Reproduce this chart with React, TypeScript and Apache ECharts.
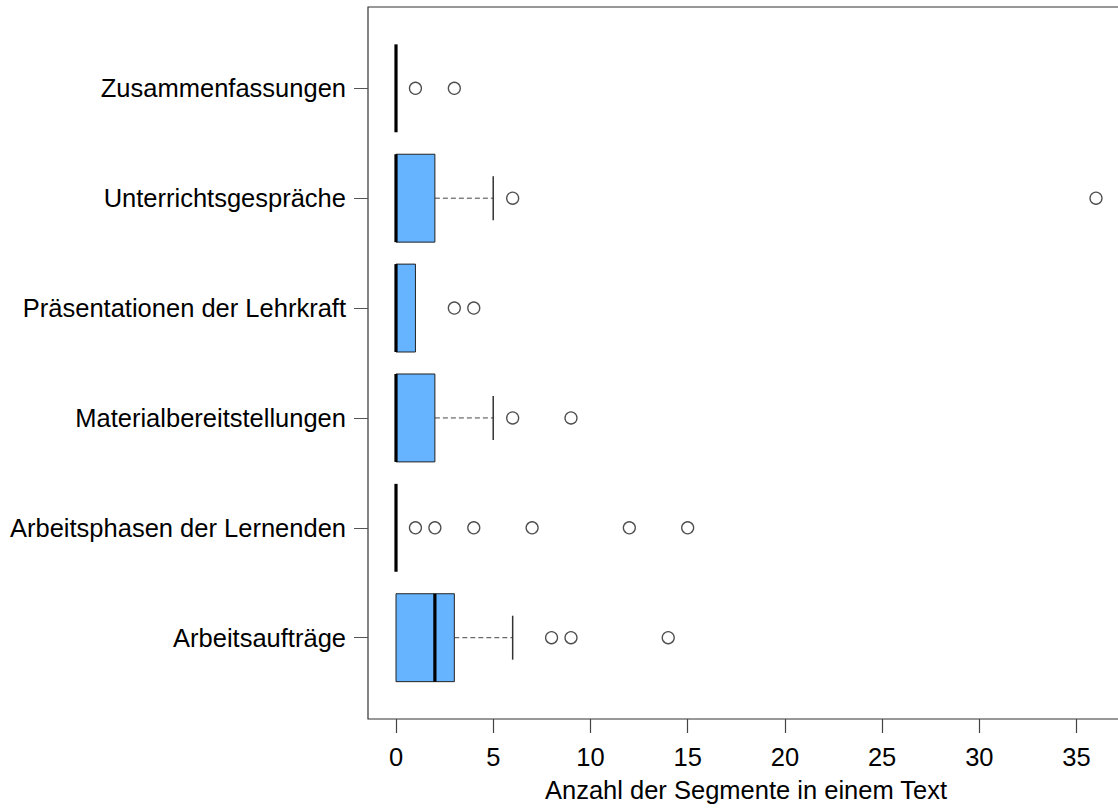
import React, { useEffect, useRef } from "react";
import * as echarts from "echarts";

// Categories, bottom to top (positions 1..6 on the y scale)
const categories = [
  "Arbeitsaufträge",
  "Arbeitsphasen der Lernenden",
  "Materialbereitstellungen",
  "Präsentationen der Lehrkraft",
  "Unterrichtsgespräche",
  "Zusammenfassungen",
];

// Five-number summaries: [lower whisker, Q1, median, Q3, upper whisker]
const lowerWhisker = [0, 0, 0, 0, 0, 0];
const q1 = [0, 0, 0, 0, 0, 0];
const median = [2, 0, 0, 0, 0, 0];
const q3 = [3, 0, 2, 1, 2, 0];
const upperWhisker = [6, 0, 5, 1, 5, 0];

// Outliers per category (same order as categories)
const outliers: number[][] = [
  [8, 9, 14],
  [1, 2, 4, 7, 12, 15],
  [6, 9],
  [3, 4],
  [6, 36],
  [1, 3],
];

const xTicks = [0, 5, 10, 15, 20, 25, 30, 35];
const yTicks = [1, 2, 3, 4, 5, 6];

const FONT = "'Liberation Sans', Arial, sans-serif";
const FONT_SIZE = 25.5;

export default function App() {
  const ref = useRef<HTMLDivElement>(null);

  useEffect(() => {
    if (!ref.current) return;
    const chart = echarts.init(ref.current, undefined, { renderer: "svg" });

    const boxData = categories.map((_, i) => [
      i + 1,
      lowerWhisker[i],
      q1[i],
      median[i],
      q3[i],
      upperWhisker[i],
    ]);

    const outlierData: number[][] = [];
    outliers.forEach((vals, i) => vals.forEach((v) => outlierData.push([v, i + 1])));

    const renderBox = (params: any, api: any) => {
      const pos = api.value(0);
      const lo = api.value(1);
      const a = api.value(2);
      const m = api.value(3);
      const b = api.value(4);
      const hi = api.value(5);
      const halfH = api.size([0, 0.8])[1] / 2;
      const y = api.coord([0, pos])[1];
      const xLo = api.coord([lo, pos])[0];
      const xA = api.coord([a, pos])[0];
      const xM = api.coord([m, pos])[0];
      const xB = api.coord([b, pos])[0];
      const xHi = api.coord([hi, pos])[0];
      const children: any[] = [];
      const whiskerStyle = { stroke: "#444", lineWidth: 1, lineDash: [5, 3] };
      const capStyle = { stroke: "#333", lineWidth: 1.5 };
      if (hi > b) {
        children.push({ type: "line", shape: { x1: xB, y1: y, x2: xHi, y2: y }, style: whiskerStyle });
        children.push({ type: "line", shape: { x1: xHi, y1: y - halfH / 2, x2: xHi, y2: y + halfH / 2 }, style: capStyle });
      }
      if (lo < a) {
        children.push({ type: "line", shape: { x1: xLo, y1: y, x2: xA, y2: y }, style: whiskerStyle });
        children.push({ type: "line", shape: { x1: xLo, y1: y - halfH / 2, x2: xLo, y2: y + halfH / 2 }, style: capStyle });
      }
      if (b > a) {
        children.push({
          type: "rect",
          shape: { x: xA, y: y - halfH, width: xB - xA, height: 2 * halfH },
          style: { fill: "#66B3FF", stroke: "#222", lineWidth: 1 },
        });
      }
      children.push({
        type: "line",
        shape: { x1: xM, y1: y - halfH, x2: xM, y2: y + halfH },
        style: { stroke: "#000", lineWidth: 3.2 },
      });
      return { type: "group", children };
    };

    chart.setOption({
      animation: false,
      backgroundColor: "#fff",
      grid: {
        left: 368,
        top: 7,
        width: 756,
        height: 712,
        outerBoundsMode: "none",
        show: true,
        borderColor: "#333",
        borderWidth: 1.2,
        backgroundColor: "transparent",
      },
      xAxis: {
        type: "value",
        min: -1.44,
        max: 37.44,
        axisLine: { show: false, onZero: false },
        splitLine: { show: false },
        axisTick: {
          show: true,
          length: 14,
          customValues: xTicks,
          lineStyle: { color: "#444", width: 1.2 },
        },
        axisLabel: {
          customValues: xTicks,
          fontSize: FONT_SIZE,
          fontFamily: FONT,
          color: "#000",
          margin: 25,
        },
        name: "Anzahl der Segmente in einem Text",
        nameLocation: "middle",
        nameGap: 58,
        nameTextStyle: { fontSize: FONT_SIZE, fontFamily: FONT, color: "#000" },
      },
      yAxis: {
        type: "value",
        min: 0.26,
        max: 6.74,
        axisLine: { show: false, onZero: false },
        splitLine: { show: false },
        axisTick: {
          show: true,
          length: 14,
          customValues: yTicks,
          lineStyle: { color: "#555", width: 1 },
        },
        axisLabel: {
          customValues: yTicks,
          fontSize: FONT_SIZE,
          fontFamily: FONT,
          color: "#000",
          margin: 22,
          formatter: (v: number) => categories[Math.round(v) - 1] ?? "",
        },
      },
      series: [
        {
          type: "custom",
          renderItem: renderBox,
          data: boxData,
          encode: { x: [1, 2, 3, 4, 5], y: 0 },
          silent: true,
          z: 2,
        },
        {
          type: "scatter",
          data: outlierData,
          symbol: "circle",
          symbolSize: 12,
          itemStyle: { color: "#fff", borderColor: "#222", borderWidth: 1.3 },
          silent: true,
          z: 3,
        },
      ],
    });

    return () => chart.dispose();
  }, []);

  // The plot frame runs past the right edge of the visible area, so the chart
  // canvas is wider than the clipping wrapper.
  return (
    <div style={{ position: "absolute", left: 0, top: 0, width: 1118, height: 808, overflow: "hidden" }}>
      <div ref={ref} style={{ width: 1140, height: 808 }} />
    </div>
  );
}
